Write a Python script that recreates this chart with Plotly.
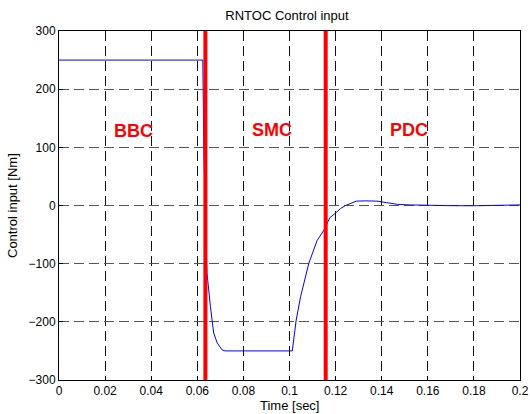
import plotly.graph_objects as go

# Control input signal
time_s = [0, 0.0624, 0.0628, 0.0642, 0.0657, 0.0671, 0.0686, 0.0707, 0.0720,
          0.1012, 0.1029, 0.1048, 0.1084, 0.1120, 0.1150, 0.1175, 0.1200,
          0.1222, 0.1243, 0.1270, 0.1290, 0.1330, 0.1380, 0.1420, 0.1468,
          0.1520, 0.1600, 0.1700, 0.1800, 0.1880, 0.1917, 0.2000]
control = [250, 250, 100, -116, -174, -219, -236, -248, -250,
           -250, -197, -157, -99, -60, -42, -21, -13,
           -5, 0, 5, 7.5, 8, 7.5, 5, 2,
           1, 0, -0.3, -0.5, 0, 1, 1]

# Controller switching instants
switch_times = [0.0635, 0.1157]

# Region labels
region_labels = ["BBC", "SMC", "PDC"]
region_x = [0.0323, 0.0925, 0.152]
region_y = [128, 130, 130]

x_ticks = [0, 0.02, 0.04, 0.06, 0.08, 0.1, 0.12, 0.14, 0.16, 0.18, 0.2]
x_tick_text = ["0", "0.02", "0.04", "0.06", "0.08", "0.1", "0.12", "0.14", "0.16", "0.18", "0.2"]
y_ticks = [-300, -200, -100, 0, 100, 200, 300]

font_family = "Liberation Sans, Arial, Helvetica, sans-serif"

fig = go.Figure()
fig.add_trace(go.Scatter(x=time_s, y=control, mode="lines",
                         line=dict(color="#0000ff", width=1), showlegend=False,
                         hoverinfo="skip"))
for t in switch_times:
    fig.add_trace(go.Scatter(x=[t, t], y=[-300, 300], mode="lines",
                             line=dict(color="#ff0000", width=4), showlegend=False,
                             hoverinfo="skip"))

for lbl, lx, ly in zip(region_labels, region_x, region_y):
    fig.add_annotation(x=lx, y=ly, text="<b>%s</b>" % lbl, showarrow=False,
                       font=dict(color="#ff0000", size=18, family=font_family),
                       xanchor="center", yanchor="middle")

# Axis titles
fig.add_annotation(x=0.5, y=0, xref="paper", yref="paper", yshift=-25,
                   text="Time [sec]", showarrow=False, xanchor="center", yanchor="middle",
                   font=dict(size=13, color="black", family=font_family))
fig.add_annotation(x=0, y=0.5, xref="paper", yref="paper", xshift=-46.5,
                   text="Control input [Nm]", showarrow=False, textangle=-90,
                   xanchor="center", yanchor="middle",
                   font=dict(size=13, color="black", family=font_family))

axis_common = dict(showline=True, linecolor="black", linewidth=1, mirror=True,
                   showgrid=True, gridwidth=1,
                   zeroline=False, ticks="inside", ticklen=4, tickcolor="black",
                   automargin=False,
                   tickfont=dict(size=12, color="black", family=font_family))

fig.update_xaxes(range=[0, 0.2], tickvals=x_ticks, ticktext=x_tick_text,
                 gridcolor="#111111", griddash="10px,5px", **axis_common)
fig.update_yaxes(range=[-300, 300], tickvals=y_ticks,
                 gridcolor="#555555", griddash="10px,5px", **axis_common)

fig.update_layout(
    width=530, height=414,
    margin=dict(l=59, r=10, t=31, b=34, autoexpand=False),
    paper_bgcolor="white", plot_bgcolor="white",
    title=dict(text="RNTOC Control input", x=0.5415, xanchor="center", y=0.9626, yanchor="middle",
               font=dict(size=13, color="black", family=font_family)),
    showlegend=False,
)

fig.write_html("out.html", config={"displayModeBar": False, "staticPlot": True},
               post_script="document.body.style.margin='0';document.body.style.overflow='hidden';")
